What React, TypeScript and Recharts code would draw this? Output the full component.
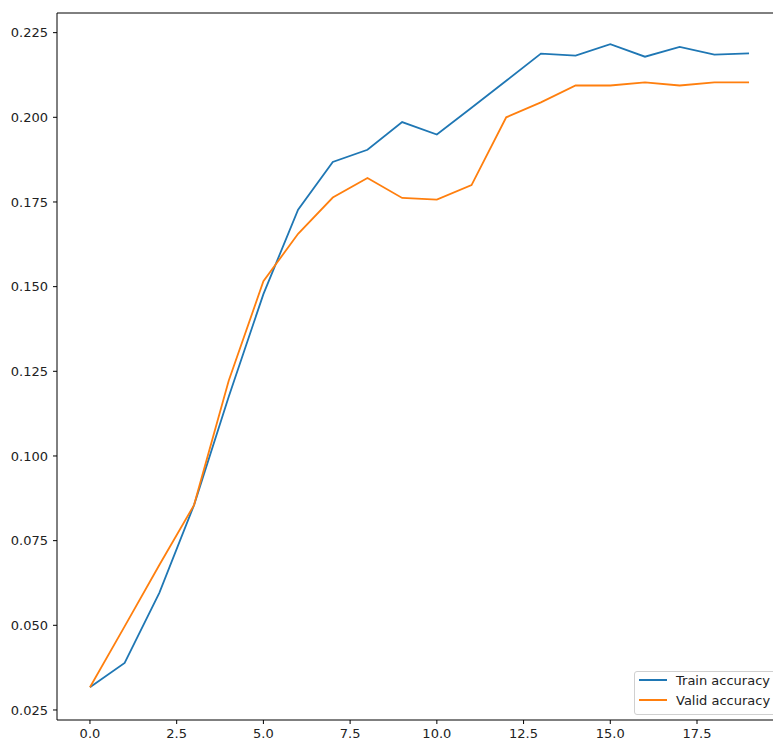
import { Legend, Line, LineChart, ReferenceLine, XAxis, YAxis } from "recharts";

const epochs = [0, 1, 2, 3, 4, 5, 6, 7, 8, 9, 10, 11, 12, 13, 14, 15, 16, 17, 18, 19];
const trainAccuracy = [
	0.0317, 0.0389, 0.0596, 0.0855, 0.1175, 0.1478, 0.1727, 0.1868, 0.1904, 0.1986,
	0.1949, 0.2028, 0.2108, 0.2188, 0.2182, 0.2216, 0.2179, 0.2208, 0.2185, 0.2189,
];
const validAccuracy = [
	0.0317, 0.0497, 0.0678, 0.0855, 0.1222, 0.1516, 0.1656, 0.1763, 0.1821, 0.1762,
	0.1757, 0.18, 0.2, 0.2044, 0.2094, 0.2094, 0.2103, 0.2094, 0.2103, 0.2103,
];
const xTicks = [0, 2.5, 5, 7.5, 10, 12.5, 15, 17.5];
const yTicks = [0.025, 0.05, 0.075, 0.1, 0.125, 0.15, 0.175, 0.2, 0.225];
const seriesNames = ["Train accuracy", "Valid accuracy"];

const BLUE = "#1f77b4";
const ORANGE = "#ff7f0e";
const FONT = "DejaVu Sans";
const Y_MIN = 0.02204;
const Y_MAX = 0.2308;

const data = epochs.map((epoch, i) => ({
	epoch,
	train: trainAccuracy[i],
	valid: validAccuracy[i],
}));

const tickStyle = { fontSize: 13, fontFamily: FONT, fill: "#222" };

function LegendBox() {
	const colors = [BLUE, ORANGE];
	return (
		<div
			style={{
				position: "relative",
				width: 145,
				height: 44,
				boxSizing: "border-box",
				border: "1px solid #d0d0d0",
				borderRadius: 3,
				background: "rgba(255,255,255,0.8)",
				fontFamily: FONT,
				fontSize: 13,
				color: "#222",
			}}
		>
			{seriesNames.map((name, i) => (
				<div key={name}>
					<div
						style={{
							position: "absolute",
							left: 4,
							top: 7 + i * 19.7,
							width: 28,
							height: 2,
							background: colors[i],
						}}
					/>
					<div
						style={{
							position: "absolute",
							left: 41,
							top: 1 + i * 19.7,
							whiteSpace: "nowrap",
							lineHeight: "16px",
						}}
					>
						{name}
					</div>
				</div>
			))}
		</div>
	);
}

export default function App() {
	return (
		<div
			style={{
				position: "fixed",
				left: 0,
				top: 0,
				width: 773,
				height: 740,
				overflow: "hidden",
				background: "#fff",
			}}
		>
			<LineChart
				width={790}
				height={740}
				data={data}
				margin={{ top: 13, right: 8, bottom: 0, left: 0 }}
			>
				<XAxis
					dataKey="epoch"
					type="number"
					domain={[-0.95, 19.95]}
					ticks={xTicks}
					allowDataOverflow
					tickFormatter={(v) => Number(v).toFixed(1)}
					tick={tickStyle}
					tickSize={4}
					tickMargin={5}
					height={20}
					stroke="#000"
				/>
				<YAxis
					type="number"
					domain={[Y_MIN, Y_MAX]}
					ticks={yTicks}
					allowDataOverflow
					tickFormatter={(v) => Number(v).toFixed(3)}
					tick={tickStyle}
					tickSize={4}
					tickMargin={5}
					width={57}
					stroke="#000"
				/>
				<ReferenceLine y={Y_MAX} stroke="#000" strokeWidth={1} />
				<Line
					dataKey="train"
					name={seriesNames[0]}
					stroke={BLUE}
					strokeWidth={1.8}
					dot={false}
					isAnimationActive={false}
				/>
				<Line
					dataKey="valid"
					name={seriesNames[1]}
					stroke={ORANGE}
					strokeWidth={1.8}
					dot={false}
					isAnimationActive={false}
				/>
				<Legend
					layout="vertical"
					align="center"
					verticalAlign="middle"
					wrapperStyle={{ left: 634, top: 671, width: 145 }}
					content={() => <LegendBox />}
				/>
			</LineChart>
		</div>
	);
}
